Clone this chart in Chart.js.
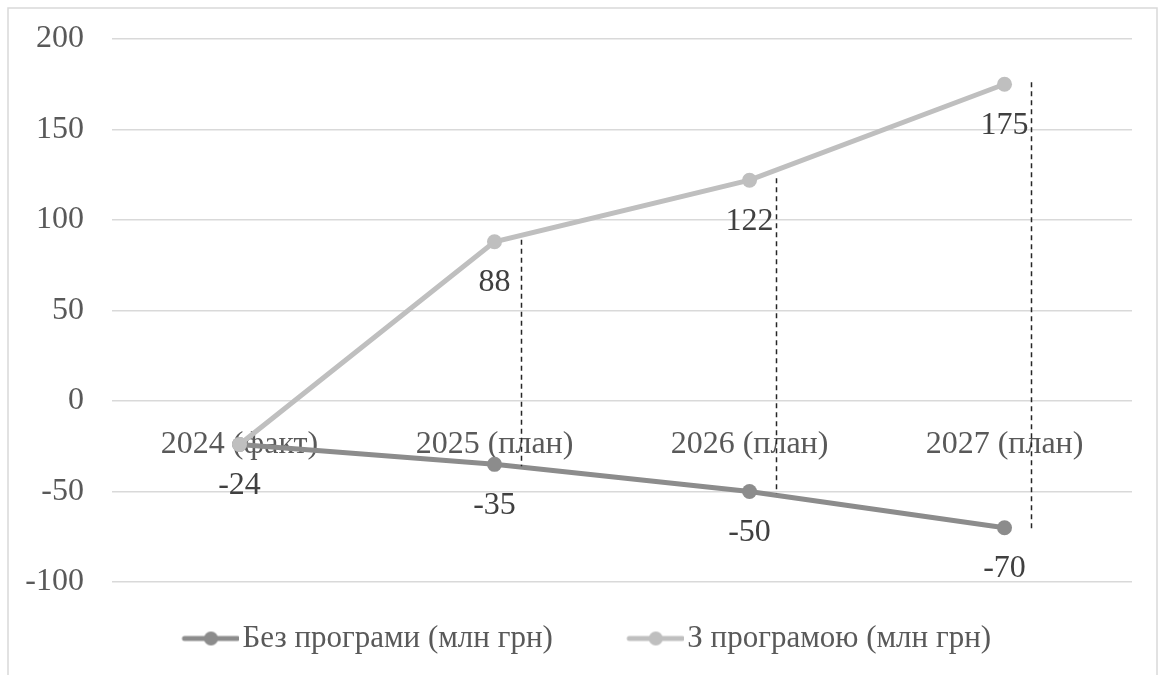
<!DOCTYPE html>
<html>
<head>
<meta charset="utf-8">
<script src="https://cdn.jsdelivr.net/npm/chart.js@4"></script>
<style>
  html, body { margin: 0; padding: 0; background: #fff; overflow: hidden; }
  #wrap { width: 1161px; height: 675px; }
</style>
</head>
<body>
<div id="wrap"><canvas id="chart" width="1161" height="675"></canvas></div>
<script>
// Data ---------------------------------------------------------------------
const categories = ['2024 (факт)', '2025 (план)', '2026 (план)', '2027 (план)'];
const withoutProgram = [-24, -35, -50, -70];
const withProgram = [-24, 88, 122, 175];
const seriesNames = ['Без програми (млн грн)', 'З програмою (млн грн)'];
const yTicks = [-100, -50, 0, 50, 100, 150, 200];

// Styling ------------------------------------------------------------------
const DARK = '#8c8c8c';
const LIGHT = '#bfbfbf';
const FONT_FAMILY = "'Liberation Serif', 'Times New Roman', serif";
const tickFont = { family: FONT_FAMILY, size: 32 };
const legendFont = { family: FONT_FAMILY, size: 31 };

// legend marker: line with a dot, drawn at the right end of a wider canvas
function legendMarker(color) {
  const c = document.createElement('canvas');
  c.width = 103;
  c.height = 16;
  const g = c.getContext('2d');
  g.strokeStyle = color;
  g.lineWidth = 5;
  g.lineCap = 'round';
  g.beginPath();
  g.moveTo(c.width - 55, 8);
  g.lineTo(c.width - 2, 8);
  g.stroke();
  g.fillStyle = color;
  g.beginPath();
  g.arc(c.width - 28.5, 8, 7, 0, Math.PI * 2);
  g.fill();
  return c;
}

// Plugins ------------------------------------------------------------------
const framePlugin = {
  id: 'frame',
  beforeDraw(chart) {
    const { ctx, width, height } = chart;
    ctx.save();
    ctx.fillStyle = '#fff';
    ctx.fillRect(0, 0, width, height);
    ctx.strokeStyle = '#d9d9d9';
    ctx.lineWidth = 1.5;
    ctx.strokeRect(8, 8, 1149, height + 20);
    ctx.restore();
  },
};

// dashed lines between the two series (slightly to the right of the points)
const dropLinesPlugin = {
  id: 'dropLines',
  afterDatasetsDraw(chart) {
    const { ctx } = chart;
    const xs = chart.scales.x;
    const ys = chart.scales.y;
    ctx.save();
    ctx.strokeStyle = '#262626';
    ctx.lineWidth = 1.5;
    ctx.setLineDash([5, 4]);
    categories.forEach((cat, i) => {
      if (withProgram[i] === withoutProgram[i]) return;
      const x = Math.round(xs.getPixelForValue(i) + 26) + 0.5;
      ctx.beginPath();
      ctx.moveTo(x, ys.getPixelForValue(withProgram[i]) - 2);
      ctx.lineTo(x, ys.getPixelForValue(withoutProgram[i]) + 2);
      ctx.stroke();
    });
    ctx.restore();
  },
};

const valueLabelsPlugin = {
  id: 'valueLabels',
  afterDraw(chart) {
    const { ctx } = chart;
    ctx.save();
    ctx.font = `32px ${FONT_FAMILY}`;
    ctx.fillStyle = '#404040';
    ctx.textAlign = 'center';
    ctx.textBaseline = 'middle';
    chart.data.datasets.forEach((ds, d) => {
      const meta = chart.getDatasetMeta(d);
      meta.data.forEach((pt, i) => {
        if ((ds.skipLabels || []).includes(i)) return;
        ctx.fillText(String(ds.data[i]), pt.x, pt.y + 41);
      });
    });
    ctx.restore();
  },
};

// Chart --------------------------------------------------------------------
const ctx = document.getElementById('chart').getContext('2d');
new Chart(ctx, {
  type: 'line',
  data: {
    labels: categories,
    datasets: [
      {
        label: seriesNames[0],
        data: withoutProgram,
        borderColor: DARK,
        backgroundColor: DARK,
        pointBackgroundColor: DARK,
        pointBorderColor: DARK,
        borderWidth: 5,
        pointRadius: 7.5,
        pointBorderWidth: 0,
        order: 1,
      },
      {
        label: seriesNames[1],
        data: withProgram,
        borderColor: LIGHT,
        backgroundColor: LIGHT,
        pointBackgroundColor: LIGHT,
        pointBorderColor: LIGHT,
        borderWidth: 5,
        pointRadius: 7.5,
        pointBorderWidth: 0,
        order: 0,
        skipLabels: [0],
      },
    ],
  },
  options: {
    responsive: false,
    animation: false,
    layout: { padding: { left: 8, right: 29, top: 39, bottom: 11 } },
    scales: {
      x: {
        type: 'category',
        offset: true,
        position: { y: 0 },
        grid: { display: false },
        border: { display: false },
        ticks: { color: '#595959', font: tickFont, padding: 16, maxRotation: 0, autoSkip: false },
      },
      y: {
        min: -100,
        max: 200,
        afterBuildTicks: (s) => { s.ticks = yTicks.map((v) => ({ value: v })); },
        afterFit: (s) => {
          s.width = 104;
          s.paddingTop = 20;
          s.paddingBottom = 20;
        },
        grid: { color: '#d9d9d9', lineWidth: 1.5, drawTicks: false },
        border: { display: false },
        ticks: { color: '#595959', font: tickFont, padding: 28 },
      },
    },
    plugins: {
      tooltip: { enabled: false },
      legend: {
        position: 'bottom',
        labels: {
          usePointStyle: true,
          pointStyleWidth: 78,
          padding: 41,
          color: '#595959',
          font: legendFont,
          generateLabels: (chart) => chart.data.datasets.map((ds, i) => ({
            text: ds.label,
            pointStyle: legendMarker(ds.borderColor),
            fillStyle: ds.borderColor,
            strokeStyle: ds.borderColor,
            lineWidth: 0,
            hidden: false,
            datasetIndex: i,
            fontColor: '#595959',
          })),
        },
      },
    },
  },
  plugins: [framePlugin, dropLinesPlugin, valueLabelsPlugin],
});
</script>
</body>
</html>
